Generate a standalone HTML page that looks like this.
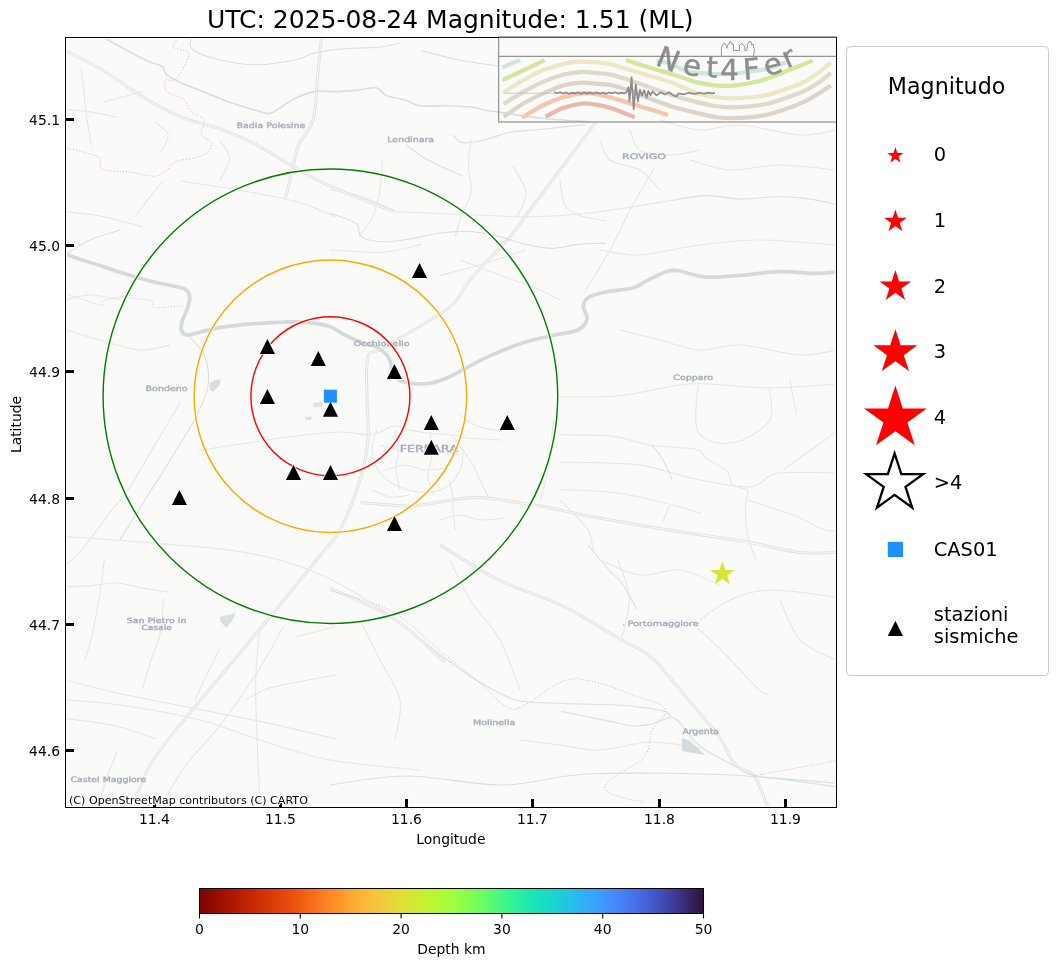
<!DOCTYPE html><html><head><meta charset="utf-8"><title>UTC: 2025-08-24 Magnitude: 1.51 (ML)</title>
<style>html,body{margin:0;padding:0;background:#fff;width:1057px;height:966px;overflow:hidden}svg{display:block}text{font-family:'DejaVu Sans','Liberation Sans',sans-serif}</style></head><body>
<svg width="1057" height="966" viewBox="0 0 1057 966">
<defs><linearGradient id="cb" x1="0" y1="0" x2="1" y2="0">
<stop offset="0.0000" stop-color="#7a0403"/>
<stop offset="0.0156" stop-color="#880802"/>
<stop offset="0.0312" stop-color="#950d01"/>
<stop offset="0.0469" stop-color="#a11201"/>
<stop offset="0.0625" stop-color="#ac1701"/>
<stop offset="0.0781" stop-color="#b71d02"/>
<stop offset="0.0938" stop-color="#c12302"/>
<stop offset="0.1094" stop-color="#ca2a04"/>
<stop offset="0.1250" stop-color="#d23105"/>
<stop offset="0.1406" stop-color="#da3907"/>
<stop offset="0.1562" stop-color="#e14109"/>
<stop offset="0.1719" stop-color="#e7490c"/>
<stop offset="0.1875" stop-color="#ec530f"/>
<stop offset="0.2031" stop-color="#f15d13"/>
<stop offset="0.2188" stop-color="#f56918"/>
<stop offset="0.2344" stop-color="#f9751d"/>
<stop offset="0.2500" stop-color="#fb8122"/>
<stop offset="0.2656" stop-color="#fd8d27"/>
<stop offset="0.2812" stop-color="#fe992c"/>
<stop offset="0.2969" stop-color="#fea431"/>
<stop offset="0.3125" stop-color="#fdae35"/>
<stop offset="0.3281" stop-color="#fbb838"/>
<stop offset="0.3438" stop-color="#f7c13a"/>
<stop offset="0.3594" stop-color="#f2c93a"/>
<stop offset="0.3750" stop-color="#ecd13a"/>
<stop offset="0.3906" stop-color="#e5d938"/>
<stop offset="0.4062" stop-color="#dde037"/>
<stop offset="0.4219" stop-color="#d4e735"/>
<stop offset="0.4375" stop-color="#cbed34"/>
<stop offset="0.4531" stop-color="#c1f334"/>
<stop offset="0.4688" stop-color="#b7f735"/>
<stop offset="0.4844" stop-color="#acfb38"/>
<stop offset="0.5000" stop-color="#a1fd3d"/>
<stop offset="0.5156" stop-color="#96fe44"/>
<stop offset="0.5312" stop-color="#88ff4e"/>
<stop offset="0.5469" stop-color="#79fe59"/>
<stop offset="0.5625" stop-color="#69fd66"/>
<stop offset="0.5781" stop-color="#59fb73"/>
<stop offset="0.5938" stop-color="#4af880"/>
<stop offset="0.6094" stop-color="#3cf58e"/>
<stop offset="0.6250" stop-color="#2ff19b"/>
<stop offset="0.6406" stop-color="#25eca7"/>
<stop offset="0.6562" stop-color="#1de7b2"/>
<stop offset="0.6719" stop-color="#19e2bb"/>
<stop offset="0.6875" stop-color="#18dbc5"/>
<stop offset="0.7031" stop-color="#1ad4d0"/>
<stop offset="0.7188" stop-color="#1ecbda"/>
<stop offset="0.7344" stop-color="#23c3e4"/>
<stop offset="0.7500" stop-color="#2ab9ee"/>
<stop offset="0.7656" stop-color="#31aff5"/>
<stop offset="0.7812" stop-color="#38a5fb"/>
<stop offset="0.7969" stop-color="#3e9bfe"/>
<stop offset="0.8125" stop-color="#4391fe"/>
<stop offset="0.8281" stop-color="#4687fb"/>
<stop offset="0.8438" stop-color="#467df4"/>
<stop offset="0.8594" stop-color="#4773eb"/>
<stop offset="0.8750" stop-color="#4669e0"/>
<stop offset="0.8906" stop-color="#455ed3"/>
<stop offset="0.9062" stop-color="#4454c3"/>
<stop offset="0.9219" stop-color="#4249b1"/>
<stop offset="0.9375" stop-color="#3f3e9c"/>
<stop offset="0.9531" stop-color="#3c3286"/>
<stop offset="0.9688" stop-color="#38276d"/>
<stop offset="0.9844" stop-color="#341b51"/>
<stop offset="1.0000" stop-color="#30123b"/>
</linearGradient>
<clipPath id="mapclip"><rect x="67" y="39" width="768" height="767"/></clipPath>
</defs>
<rect width="1057" height="966" fill="#fff"/>
<g clip-path="url(#mapclip)">
<rect x="67" y="39" width="768" height="767" fill="#fafaf8"/>
<path d="M81.3,68.6 C82.2,76.3 84.7,101.8 86.4,114.6 C88.1,127.4 90.7,140.2 91.5,145.3" fill="none" stroke="#e6e6e5" stroke-width="1.1"/>
<path d="M66.0,109.5 C70.2,109.9 83.0,110.8 91.5,112.1 C100.0,113.4 112.8,116.3 117.1,117.2" fill="none" stroke="#e6e6e5" stroke-width="1.1"/>
<path d="M155.4,122.3 C157.5,124.4 167.3,130.0 168.2,135.1 C169.0,140.2 161.8,150.0 160.5,153.0" fill="none" stroke="#e6e6e5" stroke-width="1.1"/>
<path d="M66.0,211.7 C72.4,212.5 91.5,214.2 104.3,216.8 C117.1,219.4 136.2,225.3 142.6,227.0" fill="none" stroke="#e6e6e5" stroke-width="1.1"/>
<path d="M163.1,181.0 C161.0,183.6 155.0,190.4 150.3,196.4 C145.6,202.4 137.6,213.4 135.0,216.8" fill="none" stroke="#e6e6e5" stroke-width="1.1"/>
<path d="M219.3,140.2 C221.0,143.2 229.5,151.2 229.5,158.0 C229.5,164.8 221.0,177.2 219.3,181.0" fill="none" stroke="#e6e6e5" stroke-width="1.1"/>
<path d="M181.0,181.0 C191.6,182.7 225.7,187.9 244.8,191.3 C263.9,194.7 280.7,197.2 295.9,201.5 C311.1,205.8 329.3,214.2 336.0,216.8" fill="none" stroke="#e6e6e5" stroke-width="1.1"/>
<path d="M104.3,101.9 C110.7,100.2 136.2,93.3 142.6,91.6" fill="none" stroke="#e6e6e5" stroke-width="1.1"/>
<path d="M617.9,560.0 C619.8,566.3 628.6,584.5 629.2,597.8 C629.8,611.0 622.9,632.5 621.6,639.5" fill="none" stroke="#e6e6e5" stroke-width="1.1"/>
<path d="M697.3,628.4 C699.8,630.6 706.8,636.2 712.5,641.6 C718.2,647.0 723.8,652.6 731.4,660.5 C739.0,668.4 751.6,683.2 757.9,688.9 C764.2,694.6 767.3,693.6 769.2,694.6" fill="none" stroke="#e6e6e5" stroke-width="1.1"/>
<path d="M283.3,626.5 C279.5,633.3 270.9,650.8 260.3,667.4 C249.7,684.0 231.8,710.0 219.4,726.2 C207.1,742.4 196.1,751.1 186.2,764.6 C176.3,778.1 164.4,799.9 160.0,807.0" fill="none" stroke="#e6e6e5" stroke-width="1.1"/>
<path d="M180.6,402.0 C176.2,409.4 163.0,431.4 154.2,446.1 C145.4,460.8 135.1,479.2 127.7,490.2 C120.4,501.2 117.4,502.7 110.1,512.3 C102.8,521.8 90.9,538.7 83.6,547.5 C76.2,556.3 68.9,562.2 66.0,565.2" fill="none" stroke="#e6e6e5" stroke-width="1.1"/>
<path d="M66.0,536.5 C80.7,537.6 124.8,540.5 154.2,543.1 C183.6,545.7 216.7,547.6 242.4,552.0 C268.1,556.4 286.4,560.8 308.5,569.6 C330.6,578.4 351.1,589.5 374.7,604.9 C398.3,620.3 437.4,652.7 450.0,662.2" fill="none" stroke="#e6e6e5" stroke-width="1.1"/>
<path d="M198.3,450.5 C213.0,448.3 262.9,440.4 286.5,437.3 C310.1,434.2 325.8,432.4 340.0,432.0 C354.2,431.6 362.8,435.6 371.6,434.7 C380.5,433.8 386.8,427.2 393.1,426.4 C399.5,425.6 404.2,428.6 409.7,429.7 C415.2,430.8 419.4,432.2 426.3,433.0 C433.2,433.8 444.2,433.9 451.1,434.7 C458.0,435.5 459.6,437.1 467.7,438.0 C475.8,438.9 494.6,439.7 500.0,440.0" fill="none" stroke="#e6e6e5" stroke-width="1.1"/>
<path d="M449.4,479.4 C450.0,482.1 452.2,491.8 452.8,495.9 C453.4,500.0 452.4,498.5 452.8,504.2 C453.2,509.9 454.6,525.7 455.0,530.0" fill="none" stroke="#e6e6e5" stroke-width="1.1"/>
<path d="M376.6,429.7 C375.8,433.1 371.8,443.3 372.0,450.0 C372.2,456.7 374.2,464.2 378.0,470.0 C381.8,475.8 388.0,481.3 395.0,485.0 C402.0,488.7 411.7,491.5 420.0,492.0 C428.3,492.5 438.3,491.7 445.0,488.0 C451.7,484.3 457.2,476.3 460.0,470.0 C462.8,463.7 463.5,455.9 462.0,450.0 C460.5,444.1 452.9,437.2 451.1,434.7" fill="none" stroke="#e6e6e5" stroke-width="1.1"/>
<path d="M260.0,627.0 C259.3,637.3 255.6,658.8 255.6,688.6 C255.6,718.4 259.3,786.4 260.0,806.0" fill="none" stroke="#e6e6e5" stroke-width="1.1"/>
<path d="M654.5,167.5 C650.4,174.6 637.4,196.2 630.0,210.0 C622.6,223.8 617.5,236.4 610.0,250.0 C602.5,263.6 589.2,284.8 585.0,291.7" fill="none" stroke="#e6e6e5" stroke-width="1.1"/>
<path d="M393.9,211.7 C404.5,212.1 434.3,213.3 457.7,214.2 C481.1,215.0 510.6,217.2 534.3,216.8 C558.0,216.4 577.1,214.4 600.0,211.7 C622.9,208.9 659.6,202.2 671.5,200.3" fill="none" stroke="#e6e6e5" stroke-width="1.1"/>
<path d="M553.5,420.0 C552.6,428.3 550.2,456.7 548.0,470.0 C545.8,483.3 541.3,495.0 540.0,500.0" fill="none" stroke="#e6e6e5" stroke-width="1.1"/>
<path d="M66.0,700.0 C75.0,700.8 97.7,701.7 120.0,705.0 C142.3,708.3 176.7,714.2 200.0,720.0 C223.3,725.8 238.3,733.3 260.0,740.0 C281.7,746.7 303.3,755.0 330.0,760.0 C356.7,765.0 405.0,768.3 420.0,770.0" fill="none" stroke="#e6e6e5" stroke-width="1.1"/>
<path d="M560.0,397.0 C570.0,396.8 600.4,397.7 620.0,395.7 C639.6,393.7 663.1,387.2 677.5,385.2 C691.9,383.2 691.0,383.5 706.2,383.9 C721.4,384.3 747.3,387.8 768.9,387.8 C790.5,387.8 824.8,384.5 836.0,383.9" fill="none" stroke="#e6e6e5" stroke-width="1.1"/>
<path d="M560.0,434.8 C568.7,435.0 597.0,434.4 612.2,436.1 C627.4,437.9 637.5,443.1 651.4,445.3 C665.3,447.5 686.7,447.0 695.8,449.2 C704.9,451.4 701.0,454.6 706.2,458.3 C711.4,462.0 722.8,467.0 727.1,471.4 C731.5,475.8 728.8,481.3 732.3,484.4 C735.8,487.4 745.4,488.8 748.0,489.7" fill="none" stroke="#e6e6e5" stroke-width="1.1"/>
<path d="M560.0,462.2 C573.0,462.6 616.5,462.3 638.3,464.9 C660.0,467.5 672.2,474.2 690.5,477.9 C708.8,481.6 734.9,487.2 748.0,487.0 C761.1,486.8 763.2,479.0 768.9,476.6 C774.6,474.2 770.8,473.4 782.0,472.7 C793.2,472.0 827.0,472.7 836.0,472.7" fill="none" stroke="#e6e6e5" stroke-width="1.1"/>
<path d="M698.4,385.2 C698.0,389.6 695.8,403.5 695.8,411.3 C695.8,419.1 694.9,427.0 698.4,432.2 C701.9,437.4 709.3,441.4 716.7,442.7 C724.1,444.0 734.1,443.5 742.8,440.0 C751.5,436.5 764.1,427.9 768.9,421.8 C773.7,415.7 771.5,409.2 771.5,403.5 C771.5,397.8 769.3,390.4 768.9,387.8" fill="none" stroke="#e6e6e5" stroke-width="1.1"/>
<path d="M560.0,489.7 C568.7,490.1 594.8,490.1 612.2,492.3 C629.6,494.5 649.6,499.2 664.4,502.7 C679.2,506.2 694.9,511.5 701.0,513.2" fill="none" stroke="#e6e6e5" stroke-width="1.1"/>
<path d="M748.0,489.7 C747.6,493.2 745.4,502.7 745.4,510.5 C745.4,518.3 746.3,528.5 748.0,536.7 C749.7,545.0 754.5,556.1 755.8,560.0" fill="none" stroke="#e6e6e5" stroke-width="1.1"/>
<path d="M789.8,380.0 C790.9,385.6 795.2,408.2 796.3,413.9" fill="none" stroke="#e6e6e5" stroke-width="1.1"/>
<path d="M784.5,468.8 C793.1,462.7 827.4,438.3 836.0,432.2" fill="none" stroke="#e6e6e5" stroke-width="1.1"/>
<path d="M560.0,500.1 C562.6,502.7 570.9,510.6 575.7,515.8 C580.5,521.0 585.7,525.3 588.7,531.4 C591.7,537.5 593.0,548.8 593.9,552.3" fill="none" stroke="#e6e6e5" stroke-width="1.1"/>
<path d="M669.7,505.3 C668.4,508.4 663.1,520.6 661.8,523.6" fill="none" stroke="#e6e6e5" stroke-width="1.1"/>
<path d="M748.0,500.0 C755.8,502.6 782.8,511.0 795.0,515.8 C807.2,520.6 814.2,526.2 821.0,528.8 C827.8,531.4 833.5,531.0 836.0,531.4" fill="none" stroke="#e6e6e5" stroke-width="1.1"/>
<path d="M330.0,189.6 C334.4,190.5 347.4,192.2 356.1,194.8 C364.8,197.4 375.7,202.7 382.2,205.3 C388.7,207.9 393.1,209.6 395.3,210.5" fill="none" stroke="#e6e6e5" stroke-width="1.1"/>
<path d="M471.0,140.0 C470.6,144.3 468.4,157.4 468.4,166.1 C468.4,174.8 472.3,183.5 471.0,192.2 C469.7,200.9 463.1,210.9 460.5,218.3 C457.9,225.7 456.2,233.6 455.3,236.6" fill="none" stroke="#e6e6e5" stroke-width="1.1"/>
<path d="M382.2,160.9 C381.8,166.1 381.3,182.6 379.6,192.2 C377.9,201.8 375.3,210.9 371.8,218.3 C368.3,225.7 360.9,233.6 358.7,236.6" fill="none" stroke="#e6e6e5" stroke-width="1.1"/>
<path d="M512.8,166.1 C515.0,170.4 524.9,183.9 525.8,192.2 C526.7,200.5 519.3,211.8 518.0,215.7" fill="none" stroke="#e6e6e5" stroke-width="1.1"/>
<path d="M559.8,179.2 C560.7,183.5 561.5,199.2 565.0,205.3 C568.5,211.4 573.9,213.1 580.7,215.7 C587.5,218.3 601.8,220.0 606.0,220.9" fill="none" stroke="#e6e6e5" stroke-width="1.1"/>
<path d="M330.0,249.7 C338.7,250.1 367.0,253.2 382.2,252.3 C397.4,251.4 414.9,245.7 421.4,244.4" fill="none" stroke="#e6e6e5" stroke-width="1.1"/>
<path d="M439.7,275.8 C447.5,273.6 472.4,267.1 486.7,262.7 C501.0,258.3 519.3,251.9 525.8,249.7" fill="none" stroke="#e6e6e5" stroke-width="1.1"/>
<path d="M66.0,586.8 C70.3,586.6 83.1,586.2 91.6,585.6 C100.1,585.0 108.6,582.6 117.1,583.0 C125.6,583.4 133.9,586.6 142.7,588.1 C151.5,589.6 165.4,591.4 170.0,592.0" fill="none" stroke="#e6e6e5" stroke-width="1.1"/>
<path d="M104.4,560.0 C103.5,566.4 101.3,585.6 99.2,598.4 C97.1,611.2 94.0,626.4 91.6,636.7 C89.2,647.0 86.1,656.1 85.0,660.0" fill="none" stroke="#e6e6e5" stroke-width="1.1"/>
<path d="M163.2,598.4 C162.8,603.9 162.7,621.0 160.6,631.6 C158.5,642.2 153.4,652.9 150.4,662.3 C147.4,671.7 144.0,683.5 142.7,687.8" fill="none" stroke="#e6e6e5" stroke-width="1.1"/>
<path d="M66.0,680.2 C74.5,682.3 100.0,689.2 117.1,693.0 C134.2,696.8 151.2,699.8 168.3,703.2 C185.4,706.6 202.4,710.0 219.4,713.4 C236.4,716.8 251.1,719.3 270.5,723.6 C289.9,727.9 325.1,736.4 336.0,739.0" fill="none" stroke="#e6e6e5" stroke-width="1.1"/>
<path d="M66.0,718.5 C74.5,719.8 102.2,722.8 117.1,726.2 C132.0,729.6 149.1,736.9 155.5,739.0" fill="none" stroke="#e6e6e5" stroke-width="1.1"/>
<path d="M117.1,751.8 C115.4,756.0 109.8,769.3 106.9,777.3 C104.1,785.3 101.2,796.2 100.0,800.0" fill="none" stroke="#e6e6e5" stroke-width="1.1"/>
<path d="M219.4,649.5 C217.3,653.8 210.7,666.6 206.6,675.0 C202.5,683.4 196.9,695.8 195.0,700.0" fill="none" stroke="#e6e6e5" stroke-width="1.1"/>
<path d="M296.1,636.7 C302.8,635.0 329.4,628.2 336.0,626.5" fill="none" stroke="#e6e6e5" stroke-width="1.1"/>
<path d="M245.0,700.6 C249.2,698.5 255.3,692.1 270.5,687.8 C285.7,683.5 325.1,677.1 336.0,675.0" fill="none" stroke="#e6e6e5" stroke-width="1.1"/>
<path d="M360.0,620.0 C363.3,626.7 373.3,646.7 380.0,660.0 C386.7,673.3 397.5,686.7 400.0,700.0 C402.5,713.3 395.8,733.3 395.0,740.0" fill="none" stroke="#e6e6e5" stroke-width="1.1"/>
<path d="M450.0,560.0 C453.3,566.7 461.7,586.7 470.0,600.0 C478.3,613.3 491.7,625.0 500.0,640.0 C508.3,655.0 516.7,681.7 520.0,690.0" fill="none" stroke="#e6e6e5" stroke-width="1.1"/>
<path d="M520.0,740.0 C526.7,740.8 546.7,743.3 560.0,745.0 C573.3,746.7 585.0,750.5 600.0,750.0 C615.0,749.5 633.3,742.3 650.0,742.0 C666.7,741.7 691.7,747.0 700.0,748.0" fill="none" stroke="#e6e6e5" stroke-width="1.1"/>
<path d="M780.0,600.0 C783.3,606.7 790.7,630.0 800.0,640.0 C809.3,650.0 830.0,656.7 836.0,660.0" fill="none" stroke="#e6e6e5" stroke-width="1.1"/>
<path d="M700.0,620.0 C705.0,616.7 718.3,605.0 730.0,600.0 C741.7,595.0 752.3,590.5 770.0,590.0 C787.7,589.5 825.0,595.8 836.0,597.0" fill="none" stroke="#e6e6e5" stroke-width="1.1"/>
<path d="M600.0,560.0 C606.7,562.5 626.7,573.3 640.0,575.0 C653.3,576.7 666.7,568.3 680.0,570.0 C693.3,571.7 713.3,582.5 720.0,585.0" fill="none" stroke="#e6e6e5" stroke-width="1.1"/>
<path d="M66.0,330.0 C71.7,331.7 87.7,336.7 100.0,340.0 C112.3,343.3 128.3,349.2 140.0,350.0 C151.7,350.8 165.0,345.8 170.0,345.0" fill="none" stroke="#e6e6e5" stroke-width="1.1"/>
<path d="M66.0,300.0 C70.0,299.2 81.0,295.0 90.0,295.0 C99.0,295.0 115.0,299.2 120.0,300.0" fill="none" stroke="#e6e6e5" stroke-width="1.1"/>
<path d="M460.0,260.0 C466.7,262.5 486.7,270.0 500.0,275.0 C513.3,280.0 530.0,285.8 540.0,290.0 C550.0,294.2 556.7,298.3 560.0,300.0" fill="none" stroke="#e6e6e5" stroke-width="1.1"/>
<path d="M620.0,330.0 C626.7,331.7 646.7,336.7 660.0,340.0 C673.3,343.3 686.7,349.2 700.0,350.0 C713.3,350.8 723.3,344.2 740.0,345.0 C756.7,345.8 784.0,354.2 800.0,355.0 C816.0,355.8 830.0,350.8 836.0,350.0" fill="none" stroke="#e6e6e5" stroke-width="1.1"/>
<path d="M600.0,250.0 C606.7,250.8 623.3,255.8 640.0,255.0 C656.7,254.2 680.0,247.5 700.0,245.0 C720.0,242.5 737.3,240.0 760.0,240.0 C782.7,240.0 823.3,244.2 836.0,245.0" fill="none" stroke="#e6e6e5" stroke-width="1.1"/>
<path d="M690.0,160.0 C696.7,161.7 715.0,169.2 730.0,170.0 C745.0,170.8 762.3,165.0 780.0,165.0 C797.7,165.0 826.7,169.2 836.0,170.0" fill="none" stroke="#e6e6e5" stroke-width="1.1"/>
<path d="M660.0,120.0 C666.7,121.7 686.7,129.2 700.0,130.0 C713.3,130.8 723.3,124.2 740.0,125.0 C756.7,125.8 784.0,134.2 800.0,135.0 C816.0,135.8 830.0,130.8 836.0,130.0" fill="none" stroke="#e6e6e5" stroke-width="1.1"/>
<path d="M380.0,445.0 C383.3,445.8 393.3,449.7 400.0,450.0 C406.7,450.3 413.3,446.7 420.0,447.0 C426.7,447.3 433.3,450.7 440.0,452.0 C446.7,453.3 456.7,454.5 460.0,455.0" fill="none" stroke="#e6e6e5" stroke-width="1.1"/>
<path d="M385.0,470.0 C388.3,469.2 398.3,465.0 405.0,465.0 C411.7,465.0 418.3,469.5 425.0,470.0 C431.7,470.5 441.7,468.3 445.0,468.0" fill="none" stroke="#e6e6e5" stroke-width="1.1"/>
<path d="M395.0,430.0 C395.5,433.3 397.8,443.3 398.0,450.0 C398.2,456.7 395.7,463.3 396.0,470.0 C396.3,476.7 399.3,486.7 400.0,490.0" fill="none" stroke="#e6e6e5" stroke-width="1.1"/>
<path d="M430.0,432.0 C430.3,435.8 432.3,447.8 432.0,455.0 C431.7,462.2 427.8,468.3 428.0,475.0 C428.2,481.7 432.2,491.7 433.0,495.0" fill="none" stroke="#e6e6e5" stroke-width="1.1"/>
<path d="M455.0,440.0 C457.5,443.3 465.8,453.3 470.0,460.0 C474.2,466.7 476.7,473.3 480.0,480.0 C483.3,486.7 488.3,496.7 490.0,500.0" fill="none" stroke="#e6e6e5" stroke-width="1.1"/>
<path d="M372.0,490.0 C375.0,491.2 383.7,496.2 390.0,497.0 C396.3,497.8 406.7,495.3 410.0,495.0" fill="none" stroke="#e6e6e5" stroke-width="1.1"/>
<path d="M460.0,415.0 C462.5,416.7 469.2,422.5 475.0,425.0 C480.8,427.5 487.5,429.5 495.0,430.0 C502.5,430.5 515.8,428.3 520.0,428.0" fill="none" stroke="#e6e6e5" stroke-width="1.1"/>
<path d="M440.0,520.0 C443.3,519.2 453.3,515.0 460.0,515.0 C466.7,515.0 472.5,519.5 480.0,520.0 C487.5,520.5 500.8,518.3 505.0,518.0" fill="none" stroke="#e6e6e5" stroke-width="1.1"/>
<path d="M600.0,140.0 C601.7,143.3 603.3,155.0 610.0,160.0 C616.7,165.0 631.7,165.0 640.0,170.0 C648.3,175.0 656.7,186.7 660.0,190.0" fill="none" stroke="#e6e6e5" stroke-width="1.1"/>
<path d="M630.0,130.0 C631.7,133.3 633.3,145.8 640.0,150.0 C646.7,154.2 660.0,155.0 670.0,155.0 C680.0,155.0 695.0,150.8 700.0,150.0" fill="none" stroke="#e6e6e5" stroke-width="1.1"/>
<path d="M66.0,50.8 C72.4,54.2 91.5,63.6 104.3,71.2 C117.1,78.9 129.8,89.0 142.6,96.7 C155.4,104.4 168.2,111.9 181.0,117.2 C193.8,122.5 206.5,124.0 219.3,128.7 C232.1,133.4 244.8,138.7 257.6,145.3 C270.4,151.9 282.8,161.1 295.9,168.3 C309.0,175.5 319.7,181.5 336.0,188.7 C352.3,195.9 384.2,207.9 393.9,211.7" fill="none" stroke="#e1e1e0" stroke-width="3"/>
<path d="M66.0,50.8 C72.4,54.2 91.5,63.6 104.3,71.2 C117.1,78.9 129.8,89.0 142.6,96.7 C155.4,104.4 168.2,111.9 181.0,117.2 C193.8,122.5 206.5,124.0 219.3,128.7 C232.1,133.4 244.8,138.7 257.6,145.3 C270.4,151.9 282.8,161.1 295.9,168.3 C309.0,175.5 319.7,181.5 336.0,188.7 C352.3,195.9 384.2,207.9 393.9,211.7" fill="none" stroke="#f7f7f6" stroke-width="1.1"/>
<path d="M321.4,38.0 C320.8,44.4 318.7,64.4 317.6,76.3 C316.5,88.2 316.1,101.4 315.0,109.5 C313.9,117.6 314.0,118.8 311.2,124.8 C308.4,130.8 301.4,138.5 298.4,145.3 C295.4,152.1 295.5,156.6 293.3,165.7 C291.1,174.8 286.4,194.3 285.0,200.0" fill="none" stroke="#e1e1e0" stroke-width="3"/>
<path d="M321.4,38.0 C320.8,44.4 318.7,64.4 317.6,76.3 C316.5,88.2 316.1,101.4 315.0,109.5 C313.9,117.6 314.0,118.8 311.2,124.8 C308.4,130.8 301.4,138.5 298.4,145.3 C295.4,152.1 295.5,156.6 293.3,165.7 C291.1,174.8 286.4,194.3 285.0,200.0" fill="none" stroke="#f7f7f6" stroke-width="1.1"/>
<path d="M595.6,122.3 C589.7,130.2 570.9,155.4 560.0,170.0 C549.1,184.6 538.5,198.7 530.0,210.0 C521.5,221.3 518.8,226.3 508.8,238.0 C498.8,249.7 480.0,268.4 470.0,280.0 C460.0,291.6 463.5,296.3 449.0,307.6 C434.5,318.9 396.5,339.8 383.0,348.0 C369.5,356.2 370.7,348.3 368.0,357.0 C365.3,365.7 367.0,386.2 367.0,400.0 C367.0,413.8 369.2,426.7 368.0,440.0 C366.8,453.3 364.7,465.0 360.0,480.0 C355.3,495.0 347.2,516.7 340.0,530.0 C332.8,543.3 332.4,540.5 316.6,560.0 C300.8,579.5 267.6,619.7 245.0,647.0 C222.4,674.3 196.8,704.0 181.0,723.6 C165.2,743.2 158.5,750.7 150.4,764.6 C142.3,778.5 135.5,799.9 132.5,807.0" fill="none" stroke="#e1e1e0" stroke-width="3"/>
<path d="M595.6,122.3 C589.7,130.2 570.9,155.4 560.0,170.0 C549.1,184.6 538.5,198.7 530.0,210.0 C521.5,221.3 518.8,226.3 508.8,238.0 C498.8,249.7 480.0,268.4 470.0,280.0 C460.0,291.6 463.5,296.3 449.0,307.6 C434.5,318.9 396.5,339.8 383.0,348.0 C369.5,356.2 370.7,348.3 368.0,357.0 C365.3,365.7 367.0,386.2 367.0,400.0 C367.0,413.8 369.2,426.7 368.0,440.0 C366.8,453.3 364.7,465.0 360.0,480.0 C355.3,495.0 347.2,516.7 340.0,530.0 C332.8,543.3 332.4,540.5 316.6,560.0 C300.8,579.5 267.6,619.7 245.0,647.0 C222.4,674.3 196.8,704.0 181.0,723.6 C165.2,743.2 158.5,750.7 150.4,764.6 C142.3,778.5 135.5,799.9 132.5,807.0" fill="none" stroke="#f7f7f6" stroke-width="1.1"/>
<path d="M360.0,502.6 C368.3,503.2 396.4,506.0 409.7,505.9 C423.0,505.8 428.6,503.4 440.0,502.0 C451.4,500.6 462.0,497.1 477.8,497.6 C493.6,498.1 515.7,502.0 534.6,505.1 C553.5,508.2 569.3,512.4 591.4,516.5 C613.5,520.6 641.8,525.6 667.0,529.7 C692.2,533.8 720.6,537.3 742.7,541.1 C764.8,544.9 783.8,550.6 799.5,552.5 C815.2,554.4 830.8,552.5 837.0,552.5" fill="none" stroke="#e1e1e0" stroke-width="3"/>
<path d="M360.0,502.6 C368.3,503.2 396.4,506.0 409.7,505.9 C423.0,505.8 428.6,503.4 440.0,502.0 C451.4,500.6 462.0,497.1 477.8,497.6 C493.6,498.1 515.7,502.0 534.6,505.1 C553.5,508.2 569.3,512.4 591.4,516.5 C613.5,520.6 641.8,525.6 667.0,529.7 C692.2,533.8 720.6,537.3 742.7,541.1 C764.8,544.9 783.8,550.6 799.5,552.5 C815.2,554.4 830.8,552.5 837.0,552.5" fill="none" stroke="#f7f7f6" stroke-width="1.1"/>
<path d="M330.0,588.1 C340.6,593.2 374.7,606.4 393.9,618.8 C413.1,631.2 436.5,655.0 445.0,662.3" fill="none" stroke="#e1e1e0" stroke-width="3"/>
<path d="M330.0,588.1 C340.6,593.2 374.7,606.4 393.9,618.8 C413.1,631.2 436.5,655.0 445.0,662.3" fill="none" stroke="#f7f7f6" stroke-width="1.1"/>
<path d="M440.0,544.9 C449.5,550.6 477.9,569.4 496.8,578.9 C515.7,588.4 539.6,595.6 553.5,601.6 C567.4,607.6 569.3,609.1 580.0,615.1 C590.7,621.1 606.8,631.5 617.8,637.8 C628.8,644.1 638.3,647.3 646.2,653.0 C654.1,658.7 658.8,665.0 665.1,671.9 C671.4,678.8 677.8,687.0 684.1,694.6 C690.4,702.2 697.0,710.1 703.0,717.3 C709.0,724.5 714.6,730.1 720.0,738.0 C725.4,745.9 729.5,758.1 735.2,764.4 C740.9,770.7 749.0,769.8 754.0,775.7 C759.0,781.6 762.7,794.8 765.0,800.0 C767.3,805.2 767.5,805.8 768.0,807.0" fill="none" stroke="#e1e1e0" stroke-width="3"/>
<path d="M440.0,544.9 C449.5,550.6 477.9,569.4 496.8,578.9 C515.7,588.4 539.6,595.6 553.5,601.6 C567.4,607.6 569.3,609.1 580.0,615.1 C590.7,621.1 606.8,631.5 617.8,637.8 C628.8,644.1 638.3,647.3 646.2,653.0 C654.1,658.7 658.8,665.0 665.1,671.9 C671.4,678.8 677.8,687.0 684.1,694.6 C690.4,702.2 697.0,710.1 703.0,717.3 C709.0,724.5 714.6,730.1 720.0,738.0 C725.4,745.9 729.5,758.1 735.2,764.4 C740.9,770.7 749.0,769.8 754.0,775.7 C759.0,781.6 762.7,794.8 765.0,800.0 C767.3,805.2 767.5,805.8 768.0,807.0" fill="none" stroke="#f7f7f6" stroke-width="1.1"/>
<path d="M191.2,38.0 C191.4,39.9 187.7,45.9 192.4,49.5 C197.1,53.1 208.4,57.2 219.3,59.7 C230.2,62.2 244.8,64.8 257.6,64.8 C270.4,64.8 286.5,61.6 295.9,59.7 C305.3,57.8 307.1,55.0 313.8,53.3 C320.5,51.6 329.1,50.4 336.0,49.5 C342.9,48.6 348.0,48.6 355.5,48.2 C363.0,47.8 373.8,47.9 381.0,47.0 C388.2,46.1 396.0,43.8 399.0,43.1" fill="none" stroke="#d9dfe1" stroke-width="1.1"/>
<path d="M422.0,50.8 C427.9,52.3 444.9,57.2 457.7,59.7 C470.5,62.2 491.8,65.0 498.6,66.1" fill="none" stroke="#d9dfe1" stroke-width="1.1"/>
<path d="M452.6,135.1 C454.3,136.4 457.7,141.8 462.8,142.7 C467.9,143.5 475.6,141.9 483.3,140.2 C491.0,138.5 500.3,134.2 508.8,132.5 C517.3,130.8 525.8,130.8 534.3,130.0 C542.8,129.2 551.4,128.3 559.9,127.4 C568.4,126.5 581.1,125.2 585.4,124.8" fill="none" stroke="#d9dfe1" stroke-width="1.1"/>
<path d="M406.6,145.3 C409.6,147.4 418.1,154.2 424.5,158.0 C430.9,161.8 438.6,165.3 445.0,168.3 C451.4,171.3 459.8,174.6 462.8,175.9" fill="none" stroke="#d9dfe1" stroke-width="1.1"/>
<path d="M671.5,200.3 C677.3,199.5 694.8,195.8 706.4,195.6 C718.0,195.4 729.7,198.9 741.3,199.1 C752.9,199.3 764.6,196.8 776.2,196.8 C787.8,196.8 801.1,197.8 811.1,199.1 C821.1,200.4 831.9,203.9 836.0,204.9" fill="none" stroke="#d9dfe1" stroke-width="1.1"/>
<path d="M440.0,654.6 C446.3,659.0 465.2,673.5 477.8,681.1 C490.4,688.7 503.1,696.4 515.7,700.0 C528.3,703.6 542.8,702.3 553.5,703.0 C564.2,703.7 569.3,703.7 580.0,704.0 C590.7,704.3 606.8,704.4 617.8,705.0 C628.8,705.6 638.3,706.8 646.2,707.9 C654.1,709.0 661.0,710.2 665.1,711.6 C669.2,713.0 668.6,714.8 670.8,716.4 C673.0,718.0 675.9,718.7 678.4,721.1 C680.9,723.5 683.5,727.5 686.0,730.6 C688.5,733.8 690.3,736.8 693.5,740.0 C696.7,743.2 698.1,745.7 705.0,750.0 C711.9,754.3 726.8,761.7 735.0,766.0 C743.2,770.3 743.2,773.4 754.0,775.7 C764.8,778.0 786.2,778.7 800.0,780.0 C813.8,781.3 830.8,782.8 837.0,783.3" fill="none" stroke="#d9dfe1" stroke-width="1.1"/>
<path d="M561.0,711.4 C568.9,713.0 596.7,718.7 608.4,721.1 C620.1,723.5 624.5,725.2 631.1,725.8 C637.7,726.4 643.4,725.7 648.1,724.9 C652.8,724.1 655.7,722.4 659.5,721.1 C663.3,719.8 668.9,717.9 670.8,717.3" fill="none" stroke="#d9dfe1" stroke-width="1.1"/>
<path d="M330.0,785.0 C342.8,783.5 377.7,776.0 406.7,776.0 C435.7,776.0 473.1,785.4 503.9,785.0 C534.7,784.6 551.6,775.3 591.4,773.8 C631.2,772.2 701.8,773.5 742.7,775.7 C783.6,777.9 821.3,785.1 837.0,787.0" fill="none" stroke="#d9dfe1" stroke-width="1.1"/>
<path d="M587.6,544.9 C591.4,549.3 604.6,565.1 610.3,571.4 C616.0,577.7 617.2,576.4 621.6,582.7 C626.0,589.0 634.3,604.8 636.8,609.2" fill="none" stroke="#d9dfe1" stroke-width="1.1"/>
<path d="M189.0,336.0 C191.7,339.5 201.8,348.7 205.0,357.0 C208.2,365.3 209.3,376.3 208.0,386.0 C206.7,395.7 200.8,406.7 197.0,415.0 C193.2,423.3 190.5,426.8 185.0,436.0 C179.5,445.2 171.0,458.8 164.0,470.0 C157.0,481.2 150.3,491.3 143.0,503.0 C135.7,514.7 123.8,533.8 120.0,540.0" fill="none" stroke="#d9dfe1" stroke-width="1.1"/>
<path d="M66.0,254.0 C70.0,251.7 81.0,244.0 90.0,240.0 C99.0,236.0 115.0,231.7 120.0,230.0" fill="none" stroke="#d9dfe1" stroke-width="1.1"/>
<path d="M330.0,213.1 C334.4,214.8 350.9,219.7 356.1,223.6 C361.3,227.5 357.0,233.6 361.3,236.6 C365.6,239.6 374.4,241.4 382.2,241.8 C390.0,242.2 399.6,240.5 408.3,239.2 C417.0,237.9 425.7,235.3 434.4,234.0 C443.1,232.7 452.7,231.6 460.5,231.4 C468.3,231.2 474.9,231.8 481.4,232.7 C487.9,233.6 492.3,234.6 499.7,236.6 C507.1,238.6 517.1,242.4 525.8,244.4 C534.5,246.4 543.3,248.4 552.0,248.4 C560.7,248.4 569.0,245.3 578.0,244.4 C587.0,243.5 601.3,243.3 606.0,243.1" fill="none" stroke="#d9dfe1" stroke-width="1.1"/>
<path d="M651.4,445.3 C652.8,446.9 657.2,450.9 660.0,455.0 C662.8,459.1 666.0,465.8 668.0,470.0 C670.0,474.2 671.3,478.3 672.0,480.0" fill="none" stroke="#d9dfe1" stroke-width="1.1"/>
<path d="M104.3,38.0 C109.0,40.5 124.7,49.2 132.4,53.3 C140.1,57.3 145.4,60.2 150.3,62.3 C155.2,64.4 159.0,64.0 161.8,66.1 C164.6,68.2 163.7,72.2 166.9,75.0 C170.1,77.8 174.4,79.7 181.0,82.7 C187.6,85.7 198.0,89.5 206.5,92.9 C215.0,96.3 223.5,100.1 232.0,103.1 C240.5,106.1 251.2,109.1 257.6,110.8 C264.0,112.5 266.1,114.2 270.3,113.4 C274.6,112.6 278.8,108.3 283.1,105.7 C287.4,103.1 290.8,100.3 295.9,98.0 C301.0,95.7 307.1,92.7 313.8,91.6 C320.5,90.5 329.1,91.8 336.0,91.6 C342.9,91.4 348.8,91.0 355.5,90.4 C362.2,89.8 370.9,87.0 376.0,87.8 C381.1,88.6 381.1,93.4 386.2,95.5 C391.3,97.6 401.1,98.9 406.6,100.6 C412.1,102.3 413.0,104.8 419.4,105.7 C425.8,106.6 436.5,105.5 445.0,105.7 C453.5,105.9 463.3,106.2 470.5,107.0 C477.7,107.8 483.7,110.0 488.4,110.8 C493.1,111.6 490.0,110.9 498.6,112.1 C507.2,113.3 524.8,116.3 540.0,118.0 C555.2,119.7 581.7,121.3 590.0,122.0" fill="none" stroke="#d7dde0" stroke-width="1.6"/>
<path d="M60.0,253.0 C61.1,253.3 63.0,253.4 66.8,254.6 C70.6,255.8 77.1,258.4 82.9,260.3 C88.7,262.2 95.5,263.9 101.8,266.0 C108.1,268.1 114.5,270.6 120.8,272.6 C127.1,274.6 133.4,276.5 139.7,278.2 C146.0,279.9 152.3,281.6 158.6,283.0 C164.9,284.4 172.8,285.6 177.5,286.8 C182.2,288.1 184.9,288.6 187.0,290.5 C189.1,292.4 189.8,294.9 189.8,298.1 C189.8,301.3 188.2,305.7 187.0,309.5 C185.8,313.3 183.2,317.3 182.3,320.8 C181.4,324.3 180.5,327.9 181.3,330.3 C182.1,332.7 184.5,334.5 187.0,335.0 C189.5,335.5 191.8,334.2 196.5,333.1 C201.2,332.0 209.1,329.6 215.4,328.4 C221.7,327.1 228.0,326.4 234.3,325.6 C240.6,324.8 245.8,324.2 253.2,323.7 C260.6,323.1 271.5,322.6 278.9,322.3 C286.3,322.0 291.5,321.6 297.8,321.8 C304.1,322.0 311.1,322.8 316.8,323.7 C322.5,324.6 327.8,325.8 331.9,327.4 C336.0,329.0 338.2,331.4 341.4,333.1 C344.5,334.8 347.0,336.1 350.8,337.8 C354.6,339.5 359.7,341.9 364.1,343.5 C368.5,345.1 373.5,345.4 377.3,347.3 C381.1,349.2 384.6,352.4 386.8,354.9 C389.0,357.4 389.7,359.6 390.6,362.4 C391.6,365.2 391.2,369.0 392.5,371.9 C393.8,374.8 395.0,377.6 398.1,379.5 C401.2,381.4 406.0,382.7 411.4,383.3 C416.8,383.9 423.9,384.4 430.3,383.3 C436.7,382.2 440.6,380.8 450.0,376.5 C459.4,372.2 474.3,363.0 486.5,357.4 C498.7,351.8 512.0,346.4 523.0,342.8 C534.0,339.2 543.2,337.6 552.3,335.5 C561.4,333.4 572.0,332.8 577.8,330.0 C583.6,327.2 586.1,322.9 587.0,319.0 C587.9,315.1 583.0,309.9 583.3,306.3 C583.6,302.7 584.8,299.5 588.8,297.1 C592.8,294.7 599.7,293.2 607.0,291.7 C614.3,290.2 625.9,289.8 632.6,288.0 C639.3,286.2 642.3,283.1 647.2,280.7 C652.1,278.3 656.9,275.1 661.8,273.4 C666.7,271.7 669.1,269.9 676.4,270.5 C683.7,271.1 694.7,276.2 705.7,277.0 C716.7,277.8 730.0,276.1 742.2,275.2 C754.4,274.3 766.5,271.9 778.7,271.6 C790.9,271.3 805.0,273.4 815.2,273.4 C825.4,273.4 835.9,271.9 840.0,271.6" fill="none" stroke="#d4dadc" stroke-width="3.7" stroke-linejoin="round"/>
<polygon points="682,738 690,741 705,755 682,751" fill="#d5dadd"/>
<polygon points="219.4,617 236,613 232,621 226,627.8 221,622" fill="#d9dee1"/>
<polygon points="210,383 216,379.5 221,380 219,386 213,391.5 209.5,390" fill="#d7dcdf"/>
<polygon points="313,403 322,402 323,406 314,407.5" fill="#dce0e3"/>
<polygon points="305,417 311,416.5 312,419.5 306,420.5" fill="#dce0e3"/>
<path d="M178.4,38.0 C177.6,39.5 171.6,44.2 173.3,47.0 C175.0,49.8 188.2,49.3 188.6,54.6 C189.0,59.9 179.6,74.7 175.8,78.9 C172.0,83.2 167.1,78.0 165.6,80.1 C164.1,82.2 163.9,88.4 166.9,91.6 C169.9,94.8 179.4,95.9 183.5,99.3 C187.6,102.7 187.8,108.7 191.2,112.1 C194.6,115.5 202.2,115.9 203.9,119.7 C205.6,123.5 200.1,131.3 201.4,135.1 C202.7,138.9 210.8,139.7 211.6,142.7 C212.4,145.7 209.5,150.4 206.5,153.0 C203.5,155.6 198.8,156.5 193.7,158.0 C188.6,159.5 181.8,158.9 175.8,161.9 C169.9,164.9 165.7,174.2 158.0,175.9 C150.3,177.6 139.1,173.2 129.9,172.1 C120.7,171.0 108.1,171.8 103.0,169.5 C97.9,167.2 102.0,160.8 99.2,158.0 C96.4,155.2 91.9,154.7 86.4,153.0 C80.9,151.3 69.4,148.7 66.0,147.8" fill="none" stroke="#e6bcbc" stroke-width="1" stroke-dasharray="1.2,1.8"/>
<path d="M66.0,294.0 C69.2,295.0 79.0,298.1 85.0,300.0 C91.0,301.9 98.7,305.5 101.8,305.7 C104.9,305.9 100.5,302.4 103.7,301.0 C106.9,299.6 112.9,297.2 120.8,297.2 C128.7,297.2 145.3,299.3 151.0,301.0 C156.7,302.7 149.4,306.8 154.8,307.6 C160.2,308.4 178.5,306.0 183.2,305.7" fill="none" stroke="#e6bcbc" stroke-width="1" stroke-dasharray="1.2,1.8"/>
<path d="M330.0,590.7 C340.2,594.1 373.1,601.1 391.4,611.1 C409.7,621.1 425.6,639.1 440.0,650.8 C454.4,662.4 466.5,671.5 477.8,681.0 C489.1,690.5 499.8,703.8 508.0,707.6 C516.2,711.4 517.5,708.3 527.0,703.8 C536.5,699.2 552.9,683.8 564.9,680.3 C576.9,676.8 587.0,680.3 599.0,683.0 C611.0,685.7 626.7,693.0 636.8,696.5 C646.9,700.0 654.8,701.3 659.5,704.1 C664.2,706.9 666.4,709.1 665.1,713.5 C663.8,717.9 655.4,723.4 651.9,730.6 C648.4,737.8 651.3,748.6 644.4,756.8 C637.5,764.9 616.6,773.8 610.3,779.5 C604.0,785.2 604.0,787.6 606.5,790.8 C609.0,793.9 619.1,796.5 625.4,798.4 C631.7,800.3 641.2,801.6 644.4,802.2" fill="none" stroke="#e6bcbc" stroke-width="1" stroke-dasharray="1.2,1.8"/>
<path d="M754.0,775.7 C767.8,773.2 823.2,763.1 837.0,760.6" fill="none" stroke="#e6bcbc" stroke-width="1" stroke-dasharray="1.2,1.8"/>
<text x="236.5" y="127.8" font-family="'DejaVu Sans',sans-serif" font-size="7.4" fill="#a4adba" stroke="#a4adba" stroke-width="0.35" textLength="68.8" lengthAdjust="spacingAndGlyphs">Badia Polesine</text>
<text x="387.3" y="141.5" font-family="'DejaVu Sans',sans-serif" font-size="7.4" fill="#a4adba" stroke="#a4adba" stroke-width="0.35" textLength="46.8" lengthAdjust="spacingAndGlyphs">Lendinara</text>
<text x="622.0" y="158.7" font-family="'DejaVu Sans',sans-serif" font-size="7.6" fill="#a4adba" stroke="#a4adba" stroke-width="0.35" textLength="44.0" lengthAdjust="spacingAndGlyphs">ROVIGO</text>
<text x="353.7" y="346.1" font-family="'DejaVu Sans',sans-serif" font-size="7.2" fill="#a4adba" stroke="#a4adba" stroke-width="0.35" textLength="55.9" lengthAdjust="spacingAndGlyphs">Occhiobello</text>
<text x="145.6" y="390.5" font-family="'DejaVu Sans',sans-serif" font-size="7.4" fill="#a4adba" stroke="#a4adba" stroke-width="0.35" textLength="42.1" lengthAdjust="spacingAndGlyphs">Bondeno</text>
<text x="399.7" y="452.2" font-family="'DejaVu Sans',sans-serif" font-size="8.6" fill="#a4adba" stroke="#a4adba" stroke-width="0.35" textLength="58.2" lengthAdjust="spacingAndGlyphs">FERRARA</text>
<text x="673.3" y="380.0" font-family="'DejaVu Sans',sans-serif" font-size="7.4" fill="#a4adba" stroke="#a4adba" stroke-width="0.35" textLength="39.7" lengthAdjust="spacingAndGlyphs">Copparo</text>
<text x="126.8" y="623.0" font-family="'DejaVu Sans',sans-serif" font-size="7.2" fill="#a4adba" stroke="#a4adba" stroke-width="0.35" textLength="59.6" lengthAdjust="spacingAndGlyphs">San Pietro in</text>
<text x="141.4" y="630.1" font-family="'DejaVu Sans',sans-serif" font-size="7.2" fill="#a4adba" stroke="#a4adba" stroke-width="0.35" textLength="30.4" lengthAdjust="spacingAndGlyphs">Casale</text>
<text x="627.7" y="626.1" font-family="'DejaVu Sans',sans-serif" font-size="7.2" fill="#a4adba" stroke="#a4adba" stroke-width="0.35" textLength="71.0" lengthAdjust="spacingAndGlyphs">Portomaggiore</text>
<text x="473.0" y="725.0" font-family="'DejaVu Sans',sans-serif" font-size="7.4" fill="#a4adba" stroke="#a4adba" stroke-width="0.35" textLength="42.2" lengthAdjust="spacingAndGlyphs">Molinella</text>
<text x="682.4" y="734.1" font-family="'DejaVu Sans',sans-serif" font-size="7.6" fill="#a4adba" stroke="#a4adba" stroke-width="0.35" textLength="36.6" lengthAdjust="spacingAndGlyphs">Argenta</text>
<text x="70.5" y="782.2" font-family="'DejaVu Sans',sans-serif" font-size="7.4" fill="#a4adba" stroke="#a4adba" stroke-width="0.35" textLength="75.7" lengthAdjust="spacingAndGlyphs">Castel Maggiore</text>
<circle cx="623.7" cy="625" r="0.8" fill="#a2abb8"/>
<circle cx="330.4" cy="396.2" r="227.3" fill="none" stroke="#ffffff" stroke-width="3.3" stroke-opacity="0.85"/>
<circle cx="330.4" cy="396.2" r="136.3" fill="none" stroke="#ffffff" stroke-width="3.3" stroke-opacity="0.85"/>
<circle cx="330.4" cy="396.2" r="79.5" fill="none" stroke="#ffffff" stroke-width="3.3" stroke-opacity="0.85"/>
<circle cx="330.4" cy="396.2" r="227.3" fill="none" stroke="#008000" stroke-width="1.45"/>
<circle cx="330.4" cy="396.2" r="136.3" fill="none" stroke="#ffa500" stroke-width="1.45"/>
<circle cx="330.4" cy="396.2" r="79.5" fill="none" stroke="#ff0000" stroke-width="1.45"/>
<polygon points="419.50,262.90 411.95,277.90 427.05,277.90" fill="#000" stroke="#fff" stroke-opacity="0.8" stroke-width="1.6" stroke-linejoin="round" paint-order="stroke"/>
<polygon points="267.40,339.00 259.85,354.00 274.95,354.00" fill="#000" stroke="#fff" stroke-opacity="0.8" stroke-width="1.6" stroke-linejoin="round" paint-order="stroke"/>
<polygon points="318.30,351.00 310.75,366.00 325.85,366.00" fill="#000" stroke="#fff" stroke-opacity="0.8" stroke-width="1.6" stroke-linejoin="round" paint-order="stroke"/>
<polygon points="394.40,363.90 386.85,378.90 401.95,378.90" fill="#000" stroke="#fff" stroke-opacity="0.8" stroke-width="1.6" stroke-linejoin="round" paint-order="stroke"/>
<polygon points="267.40,389.00 259.85,404.00 274.95,404.00" fill="#000" stroke="#fff" stroke-opacity="0.8" stroke-width="1.6" stroke-linejoin="round" paint-order="stroke"/>
<polygon points="330.50,401.80 322.95,416.80 338.05,416.80" fill="#000" stroke="#fff" stroke-opacity="0.8" stroke-width="1.6" stroke-linejoin="round" paint-order="stroke"/>
<polygon points="431.30,415.10 423.75,430.10 438.85,430.10" fill="#000" stroke="#fff" stroke-opacity="0.8" stroke-width="1.6" stroke-linejoin="round" paint-order="stroke"/>
<polygon points="507.30,415.10 499.75,430.10 514.85,430.10" fill="#000" stroke="#fff" stroke-opacity="0.8" stroke-width="1.6" stroke-linejoin="round" paint-order="stroke"/>
<polygon points="431.30,439.70 423.75,454.70 438.85,454.70" fill="#000" stroke="#fff" stroke-opacity="0.8" stroke-width="1.6" stroke-linejoin="round" paint-order="stroke"/>
<polygon points="293.50,464.90 285.95,479.90 301.05,479.90" fill="#000" stroke="#fff" stroke-opacity="0.8" stroke-width="1.6" stroke-linejoin="round" paint-order="stroke"/>
<polygon points="330.50,464.90 322.95,479.90 338.05,479.90" fill="#000" stroke="#fff" stroke-opacity="0.8" stroke-width="1.6" stroke-linejoin="round" paint-order="stroke"/>
<polygon points="179.40,490.00 171.85,505.00 186.95,505.00" fill="#000" stroke="#fff" stroke-opacity="0.8" stroke-width="1.6" stroke-linejoin="round" paint-order="stroke"/>
<polygon points="394.50,515.90 386.95,530.90 402.05,530.90" fill="#000" stroke="#fff" stroke-opacity="0.8" stroke-width="1.6" stroke-linejoin="round" paint-order="stroke"/>
<rect x="323.9" y="389.7" width="13" height="13" fill="#1e90ff"/>
<polygon points="722.40,560.90 719.46,569.95 709.94,569.95 717.64,575.55 714.70,584.60 722.40,579.00 730.10,584.60 727.16,575.55 734.86,569.95 725.34,569.95" fill="#d7e535" stroke="#fff" stroke-opacity="0.8" stroke-width="1.4" stroke-linejoin="round" paint-order="stroke"/>
</g>
<g id="logo">
<path d="M502.3,67.5 C503.8,66.8 508.0,64.8 511.0,63.6 C514.0,62.4 518.8,60.8 520.3,60.2" fill="none" stroke="#cfe6d8" stroke-width="4.2" stroke-linecap="butt"/>
<path d="M656.6,60.6 C658.8,61.1 664.9,61.7 670.0,63.5 C675.1,65.3 682.0,69.7 687.0,71.3 C692.0,72.9 695.5,72.8 700.0,73.2 C704.5,73.7 708.7,73.9 714.0,74.0 C719.3,74.1 725.9,74.4 731.9,74.0 C737.9,73.6 744.0,72.4 750.0,71.5 C756.0,70.6 762.0,70.1 768.0,68.6 C774.0,67.1 783.0,63.4 786.0,62.4" fill="none" stroke="#cfe6d8" stroke-width="4.2" stroke-linecap="butt"/>
<path d="M502.3,80.2 C506.0,78.5 517.2,73.3 524.2,70.0 C531.2,66.7 541.2,61.8 544.6,60.2" fill="none" stroke="#d6e59c" stroke-width="4.2" stroke-linecap="butt"/>
<path d="M625.9,60.1 C630.3,61.5 644.5,66.0 652.4,68.4 C660.3,70.8 665.9,72.3 673.2,74.6 C680.5,76.9 689.0,80.3 696.0,82.1 C703.0,83.9 709.0,84.7 715.0,85.3 C721.0,85.9 726.1,86.1 731.9,85.7 C737.7,85.3 744.0,84.2 750.0,83.0 C756.0,81.8 760.4,81.0 767.9,78.5 C775.4,76.0 787.3,70.7 794.8,67.7 C802.3,64.7 809.8,61.8 812.8,60.6" fill="none" stroke="#d6e59c" stroke-width="4.2" stroke-linecap="butt"/>
<path d="M503.8,92.3 C507.2,90.2 517.6,83.4 524.2,79.7 C530.8,76.0 537.1,72.6 543.6,70.0 C550.1,67.4 557.4,65.5 563.1,64.1 C568.8,62.7 572.4,62.0 577.7,61.7 C583.0,61.4 589.5,61.8 595.0,62.2 C600.5,62.6 604.7,62.8 610.8,64.2 C616.9,65.6 624.7,68.4 631.6,70.5 C638.5,72.6 645.5,74.6 652.4,76.7 C659.3,78.8 665.9,80.3 673.2,83.0 C680.5,85.7 689.0,90.6 696.0,92.9 C703.0,95.2 709.0,96.1 715.0,97.0 C721.0,97.9 726.1,98.2 731.9,98.3 C737.7,98.4 744.0,98.1 750.0,97.5 C756.0,96.9 761.9,96.1 767.9,94.7 C773.9,93.3 780.0,91.1 786.0,89.0 C792.0,86.9 798.5,84.8 803.8,82.1 C809.1,79.4 813.5,76.3 818.0,73.0 C822.5,69.7 828.7,64.2 830.8,62.4" fill="none" stroke="#ede8c3" stroke-width="4.2" stroke-linecap="butt"/>
<path d="M503.8,104.0 C507.2,101.9 517.6,95.1 524.2,91.4 C530.8,87.7 537.1,84.4 543.6,81.6 C550.1,78.8 556.6,76.4 563.1,74.8 C569.6,73.2 577.2,72.2 582.5,71.9 C587.8,71.6 590.3,72.5 595.0,72.9 C599.7,73.4 604.7,73.3 610.8,74.6 C616.9,75.9 624.7,78.6 631.6,80.9 C638.5,83.2 645.5,85.8 652.4,88.2 C659.3,90.6 665.9,93.1 673.2,95.4 C680.5,97.7 689.0,100.1 696.0,101.9 C703.0,103.7 709.0,105.1 715.0,106.0 C721.0,106.9 726.1,107.2 731.9,107.3 C737.7,107.3 744.0,106.9 750.0,106.3 C756.0,105.7 761.9,105.1 767.9,103.7 C773.9,102.3 780.0,100.1 786.0,98.0 C792.0,95.9 798.5,93.6 803.8,91.1 C809.1,88.6 813.5,86.0 818.0,83.0 C822.5,80.0 828.7,74.8 830.8,73.1" fill="none" stroke="#dddac9" stroke-width="4.2" stroke-linecap="butt"/>
<path d="M503.8,116.7 C507.2,114.4 517.6,106.9 524.2,103.0 C530.8,99.1 537.1,96.2 543.6,93.3 C550.1,90.4 556.6,87.3 563.1,85.5 C569.6,83.7 577.2,82.9 582.5,82.6 C587.8,82.3 590.3,83.2 595.0,83.6 C599.7,84.0 604.7,83.7 610.8,85.0 C616.9,86.3 624.7,88.9 631.6,91.3 C638.5,93.7 645.5,97.0 652.4,99.6 C659.3,102.2 665.9,104.7 673.2,106.9 C680.5,109.1 689.0,111.0 696.0,112.7 C703.0,114.4 709.0,116.1 715.0,117.0 C721.0,117.9 726.1,118.0 731.9,118.1 C737.7,118.1 744.0,117.9 750.0,117.3 C756.0,116.7 761.9,115.9 767.9,114.5 C773.9,113.1 780.0,111.1 786.0,109.0 C792.0,106.9 798.5,104.4 803.8,101.9 C809.1,99.4 813.5,96.7 818.0,94.0 C822.5,91.3 828.7,87.1 830.8,85.7" fill="none" stroke="#ded3c7" stroke-width="4.2" stroke-linecap="butt"/>
<path d="M522.2,117.6 C525.8,115.5 536.8,108.4 543.6,105.0 C550.4,101.6 556.6,99.2 563.1,97.2 C569.6,95.2 577.2,93.9 582.5,93.3 C587.8,92.7 590.3,93.1 595.0,93.8 C599.7,94.5 604.7,95.8 610.8,97.5 C616.9,99.2 624.7,101.7 631.6,103.8 C638.5,105.9 646.3,108.1 652.4,110.0 C658.5,111.9 665.4,114.3 668.0,115.2" fill="none" stroke="#f6c5aa" stroke-width="4.2" stroke-linecap="butt"/>
<path d="M545.6,116.7 C548.5,115.2 557.0,110.1 563.1,107.9 C569.2,105.7 577.2,104.1 582.5,103.5 C587.8,102.9 590.3,103.8 595.0,104.5 C599.7,105.2 604.2,105.8 610.8,107.9 C617.4,110.0 630.7,115.7 634.7,117.3" fill="none" stroke="#ebb7aa" stroke-width="4.2" stroke-linecap="butt"/>
<line x1="503" y1="93.2" x2="556" y2="93.2" stroke="#b9b9b9" stroke-width="0.7"/>
<polyline points="554.3,92.0 557.0,93.2 560.0,92.2 563.0,93.6 566.0,92.4 569.0,93.8 572.0,92.6 575.0,93.4 578.0,92.2 581.0,93.9 584.0,92.5 587.0,93.6 590.0,92.6 593.2,93.8 596.0,92.4 600.0,93.6 603.0,92.6 606.0,93.8 609.0,92.4 612.0,93.4 615.0,92.2 618.0,93.6 621.0,92.6 624.0,93.4 626.5,92.4 628.5,87.1 629.5,101.7 631.6,77.2 633.7,109.5 635.8,84.0 637.9,101.7 640.0,89.7 642.0,95.4 644.1,90.2 646.7,97.5 648.3,90.8 650.4,95.4 652.4,91.3 656.6,95.4 660.8,92.3 664.9,94.4 669.1,92.3 673.2,95.4 676.4,96.5 678.4,93.4 683.7,94.4 688.9,92.8 694.1,93.9 700.0,92.8 704.0,93.8 708.0,92.6 712.0,93.4 715.0,93.0" fill="none" stroke="#8c8c8c" stroke-width="1.7" stroke-linejoin="round"/>
<polyline points="721.4,56.0 721.4,49.2 722.0,46.2 723.5,43.5 725.0,43.5 726.5,45.8 726.9,48.3 727.3,45.4 729.0,44.1 729.9,41.5 731.2,42.4 731.6,44.3 733.5,44.3 733.5,50.5 739.3,50.5 739.5,45.4 741.4,43.5 743.1,44.5 744.8,46.6 744.8,50.5 746.7,50.5 747.6,44.5 749.1,41.5 750.8,41.5 751.6,44.5 753.3,44.5 753.7,48.3 754.6,49.2 753.5,56.0" fill="none" stroke="#8a8a8a" stroke-width="0.9"/>
<text x="654.47 681.83 705.80 720.28 744.02 766.46 787.01" y="64.57 73.83 77.09 79.90 79.79 76.24 68.43" rotate="22 10 3 0 -5 -15 -24" font-family="'DejaVu Sans',sans-serif" font-size="29" fill="#8e8e8e" stroke="#8e8e8e" stroke-width="0.5">Net4Fer</text>
<rect x="498.7" y="37.3" width="337.8" height="84.7" fill="none" stroke="#7a7a7a" stroke-width="1"/>
<line x1="498.7" y1="56.3" x2="836.5" y2="56.3" stroke="#7a7a7a" stroke-width="1"/>
</g>
<rect x="65.5" y="37.5" width="771" height="770" fill="none" stroke="#000" stroke-width="1"/>
<line x1="498.7" y1="37.2" x2="836.5" y2="37.2" stroke="#6e6e6e" stroke-width="1.2"/>
<rect x="151.6" y="797.7" width="5.8" height="9.3" fill="#fff"/>
<rect x="277.6" y="797.7" width="5.8" height="9.3" fill="#fff"/>
<rect x="403.6" y="797.7" width="5.8" height="9.3" fill="#fff"/>
<rect x="529.6" y="797.7" width="5.8" height="9.3" fill="#fff"/>
<rect x="656.6" y="797.7" width="5.8" height="9.3" fill="#fff"/>
<rect x="782.6" y="797.7" width="5.8" height="9.3" fill="#fff"/>
<rect x="153.0" y="799" width="3" height="8.5" fill="#000"/>
<text x="154.5" y="824" font-size="13.9" text-anchor="middle">11.4</text>
<rect x="279.0" y="799" width="3" height="8.5" fill="#000"/>
<text x="280.5" y="824" font-size="13.9" text-anchor="middle">11.5</text>
<rect x="405.0" y="799" width="3" height="8.5" fill="#000"/>
<text x="406.5" y="824" font-size="13.9" text-anchor="middle">11.6</text>
<rect x="531.0" y="799" width="3" height="8.5" fill="#000"/>
<text x="532.5" y="824" font-size="13.9" text-anchor="middle">11.7</text>
<rect x="658.0" y="799" width="3" height="8.5" fill="#000"/>
<text x="659.5" y="824" font-size="13.9" text-anchor="middle">11.8</text>
<rect x="784.0" y="799" width="3" height="8.5" fill="#000"/>
<text x="785.5" y="824" font-size="13.9" text-anchor="middle">11.9</text>
<rect x="66" y="116.6" width="9.3" height="5.8" fill="#fff"/>
<rect x="65.5" y="118.0" width="8.5" height="3" fill="#000"/>
<text x="60" y="124.5" font-size="13.9" text-anchor="end">45.1</text>
<rect x="66" y="242.6" width="9.3" height="5.8" fill="#fff"/>
<rect x="65.5" y="244.0" width="8.5" height="3" fill="#000"/>
<text x="60" y="250.5" font-size="13.9" text-anchor="end">45.0</text>
<rect x="66" y="368.6" width="9.3" height="5.8" fill="#fff"/>
<rect x="65.5" y="370.0" width="8.5" height="3" fill="#000"/>
<text x="60" y="376.5" font-size="13.9" text-anchor="end">44.9</text>
<rect x="66" y="495.6" width="9.3" height="5.8" fill="#fff"/>
<rect x="65.5" y="497.0" width="8.5" height="3" fill="#000"/>
<text x="60" y="503.5" font-size="13.9" text-anchor="end">44.8</text>
<rect x="66" y="621.6" width="9.3" height="5.8" fill="#fff"/>
<rect x="65.5" y="623.0" width="8.5" height="3" fill="#000"/>
<text x="60" y="629.5" font-size="13.9" text-anchor="end">44.7</text>
<rect x="66" y="747.6" width="9.3" height="5.8" fill="#fff"/>
<rect x="65.5" y="749.0" width="8.5" height="3" fill="#000"/>
<text x="60" y="755.5" font-size="13.9" text-anchor="end">44.6</text>
<text x="69" y="803.5" font-size="11.1" fill="#000" stroke="#fff" stroke-width="2.2" stroke-linejoin="round" paint-order="stroke">(C) OpenStreetMap contributors (C) CARTO</text>
<text x="450.9" y="843.8" font-size="13.9" text-anchor="middle">Longitude</text>
<text transform="translate(20.7,424.5) rotate(-90)" font-size="13.9" text-anchor="middle">Latitude</text>
<text x="450.2" y="28.3" font-size="25" text-anchor="middle">UTC: 2025-08-24 Magnitude: 1.51 (ML)</text>
<rect x="846.5" y="46.5" width="202" height="629" rx="4" ry="4" fill="#fff" stroke="#cccccc" stroke-width="1"/>
<text x="946.6" y="93.7" font-size="22.2" text-anchor="middle">Magnitudo</text>
<polygon points="895.40,146.95 893.46,152.93 887.17,152.93 892.26,156.62 890.32,162.60 895.40,158.90 900.48,162.60 898.54,156.62 903.63,152.93 897.34,152.93" fill="#ff0000"/>
<text x="933.8" y="161.0" font-size="19.4">0</text>
<polygon points="895.40,209.60 892.73,217.82 884.08,217.82 891.08,222.90 888.41,231.13 895.40,226.05 902.39,231.13 899.72,222.90 906.72,217.82 898.07,217.82" fill="#ff0000"/>
<text x="933.8" y="227.4" font-size="19.4">1</text>
<polygon points="895.40,269.95 891.68,281.39 879.66,281.39 889.39,288.45 885.67,299.89 895.40,292.82 905.13,299.89 901.41,288.45 911.14,281.39 899.12,281.39" fill="#ff0000"/>
<text x="933.8" y="292.6" font-size="19.4">2</text>
<polygon points="895.40,329.30 890.21,345.26 873.43,345.26 887.01,355.13 881.82,371.09 895.40,361.22 908.98,371.09 903.79,355.13 917.37,345.26 900.59,345.26" fill="#ff0000"/>
<text x="933.8" y="358.4" font-size="19.4">3</text>
<polygon points="895.40,385.60 887.99,408.40 864.02,408.40 883.41,422.50 876.00,445.30 895.40,431.20 914.80,445.30 907.39,422.50 926.78,408.40 902.81,408.40" fill="#ff0000"/>
<text x="933.8" y="424.2" font-size="19.4">4</text>
<polygon points="894.60,453.40 887.86,474.13 866.07,474.13 883.70,486.94 876.97,507.67 894.60,494.86 912.23,507.67 905.50,486.94 923.13,474.13 901.34,474.13" fill="none" stroke="#000" stroke-width="2.3" stroke-linejoin="miter" stroke-miterlimit="10"/>
<text x="933.8" y="489.1" font-size="19.4">&gt;4</text>
<rect x="887.8" y="541.8" width="15.2" height="15.2" fill="#1e90ff"/>
<text x="933.8" y="555.6" font-size="19.4">CAS01</text>
<polygon points="895.40,620.70 887.85,635.90 902.95,635.90" fill="#000"/>
<text x="933.8" y="621.0" font-size="19.4">stazioni</text>
<text x="933.8" y="643.2" font-size="19.4">sismiche</text>
<rect x="199.5" y="888.5" width="504.0" height="25.0" fill="url(#cb)" stroke="#000" stroke-width="1"/>
<line x1="199.5" y1="913.5" x2="199.5" y2="918.4" stroke="#000" stroke-width="1.1"/>
<text x="199.5" y="933.9" font-size="13.9" text-anchor="middle">0</text>
<line x1="300.3" y1="913.5" x2="300.3" y2="918.4" stroke="#000" stroke-width="1.1"/>
<text x="300.3" y="933.9" font-size="13.9" text-anchor="middle">10</text>
<line x1="401.1" y1="913.5" x2="401.1" y2="918.4" stroke="#000" stroke-width="1.1"/>
<text x="401.1" y="933.9" font-size="13.9" text-anchor="middle">20</text>
<line x1="501.9" y1="913.5" x2="501.9" y2="918.4" stroke="#000" stroke-width="1.1"/>
<text x="501.9" y="933.9" font-size="13.9" text-anchor="middle">30</text>
<line x1="602.7" y1="913.5" x2="602.7" y2="918.4" stroke="#000" stroke-width="1.1"/>
<text x="602.7" y="933.9" font-size="13.9" text-anchor="middle">40</text>
<line x1="703.5" y1="913.5" x2="703.5" y2="918.4" stroke="#000" stroke-width="1.1"/>
<text x="703.5" y="933.9" font-size="13.9" text-anchor="middle">50</text>
<text x="451.4" y="953.5" font-size="13.9" text-anchor="middle">Depth km</text>
</svg></body></html>
